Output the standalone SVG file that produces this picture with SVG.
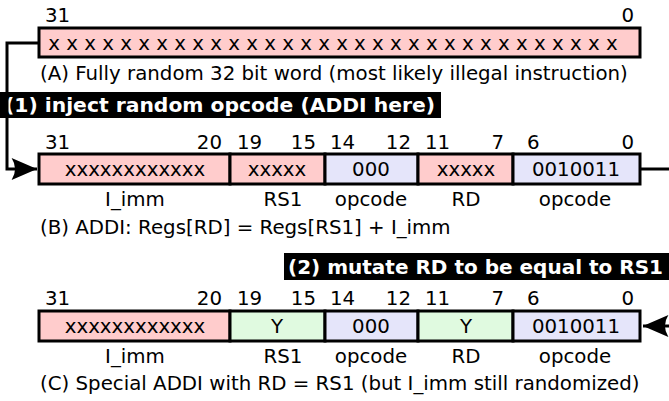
<svg xmlns="http://www.w3.org/2000/svg" width="669" height="401" viewBox="0 0 669 401">
  <defs>
    <style>
      text { font-family: "DejaVu Sans", "Liberation Sans", sans-serif; font-size: 19.8px; fill: #000; }
      .mid { text-anchor: middle; }
      .end { text-anchor: end; }
      .banner { font-weight: bold; font-size: 20px; fill: #fff; }
      .field { stroke: #000; stroke-width: 3; }
      .rand { fill: #ffcccc; }
      .fixed { fill: #e5e5fa; }
      .same { fill: #e0fae0; }
      .wire { fill: none; stroke: #000; stroke-width: 3; }
    </style>
    <marker id="arrow" markerUnits="userSpaceOnUse" markerWidth="30" markerHeight="30" viewBox="-24 -12 26 24" refX="0" refY="0" orient="auto">
      <path d="M0,0 L-22,-9.5 Q-16,0 -22,9.5 Z" fill="#000"/>
    </marker>
  </defs>

  <!-- (A) random word -->
  <g id="wordA">
    <text x="45" y="22">31</text>
    <text x="634" y="22" class="end">0</text>
    <rect class="field rand" x="39" y="28" width="601" height="29"/>
    <text x="333" y="50" class="mid">x x x x x x x x x x x x x x x x x x x x x x x x x x x x x x x x</text>
    <text x="40" y="80">(A) Fully random 32 bit word (most likely illegal instruction)</text>
  </g>

  <!-- step 1 banner -->
  <g id="step1">
    <rect x="0" y="92" width="441" height="26" fill="#000"/>
    <text x="5" y="112" class="banner" textLength="430" lengthAdjust="spacingAndGlyphs">(1) inject random opcode (ADDI here)</text>
  </g>

  <!-- (B) ADDI -->
  <g id="wordB">
    <text x="45" y="149">31</text>
    <text x="222" y="149" class="end">20</text>
    <text x="237" y="149">19</text>
    <text x="316" y="149" class="end">15</text>
    <text x="330" y="149">14</text>
    <text x="411" y="149" class="end">12</text>
    <text x="425" y="149">11</text>
    <text x="504" y="149" class="end">7</text>
    <text x="527" y="149">6</text>
    <text x="634" y="149" class="end">0</text>
    <rect class="field rand" x="39" y="154" width="191" height="30"/>
    <rect class="field rand" x="230" y="154" width="95" height="30"/>
    <rect class="field fixed" x="325" y="154" width="93" height="30"/>
    <rect class="field rand" x="418" y="154" width="95" height="30"/>
    <rect class="field fixed" x="513" y="154" width="127" height="30"/>
    <text x="135" y="176" class="mid">xxxxxxxxxxxx</text>
    <text x="277" y="176" class="mid">xxxxx</text>
    <text x="371" y="176" class="mid">000</text>
    <text x="466" y="176" class="mid">xxxxx</text>
    <text x="576" y="176" class="mid">0010011</text>
    <text x="135" y="206" class="mid">I_imm</text>
    <text x="283" y="206" class="mid">RS1</text>
    <text x="371" y="206" class="mid">opcode</text>
    <text x="466" y="206" class="mid">RD</text>
    <text x="575" y="206" class="mid">opcode</text>
    <text x="40" y="234">(B) ADDI: Regs[RD] = Regs[RS1] + I_imm</text>
  </g>

  <!-- step 2 banner -->
  <g id="step2">
    <rect x="284" y="253" width="385" height="27" fill="#000"/>
    <text x="288" y="274" class="banner" textLength="375" lengthAdjust="spacingAndGlyphs">(2) mutate RD to be equal to RS1</text>
  </g>

  <!-- (C) special ADDI -->
  <g id="wordC">
    <text x="45" y="305">31</text>
    <text x="222" y="305" class="end">20</text>
    <text x="237" y="305">19</text>
    <text x="316" y="305" class="end">15</text>
    <text x="330" y="305">14</text>
    <text x="411" y="305" class="end">12</text>
    <text x="425" y="305">11</text>
    <text x="504" y="305" class="end">7</text>
    <text x="527" y="305">6</text>
    <text x="634" y="305" class="end">0</text>
    <rect class="field rand" x="39" y="311" width="191" height="30"/>
    <rect class="field same" x="230" y="311" width="95" height="30"/>
    <rect class="field fixed" x="325" y="311" width="93" height="30"/>
    <rect class="field same" x="418" y="311" width="95" height="30"/>
    <rect class="field fixed" x="513" y="311" width="127" height="30"/>
    <text x="135" y="333" class="mid">xxxxxxxxxxxx</text>
    <text x="277" y="333" class="mid">Y</text>
    <text x="371" y="333" class="mid">000</text>
    <text x="466" y="333" class="mid">Y</text>
    <text x="576" y="333" class="mid">0010011</text>
    <text x="135" y="363" class="mid">I_imm</text>
    <text x="283" y="363" class="mid">RS1</text>
    <text x="371" y="363" class="mid">opcode</text>
    <text x="466" y="363" class="mid">RD</text>
    <text x="575" y="363" class="mid">opcode</text>
    <text x="40" y="390">(C) Special ADDI with RD = RS1 (but I_imm still randomized)</text>
  </g>

  <!-- connectors -->
  <g id="connectors">
    <path class="wire" d="M39,43 H7 V169 H37" marker-end="url(#arrow)"/>
    <path class="wire" d="M641,169 H669"/>
    <path class="wire" d="M669,326 H643" marker-end="url(#arrow)"/>
  </g>
</svg>
